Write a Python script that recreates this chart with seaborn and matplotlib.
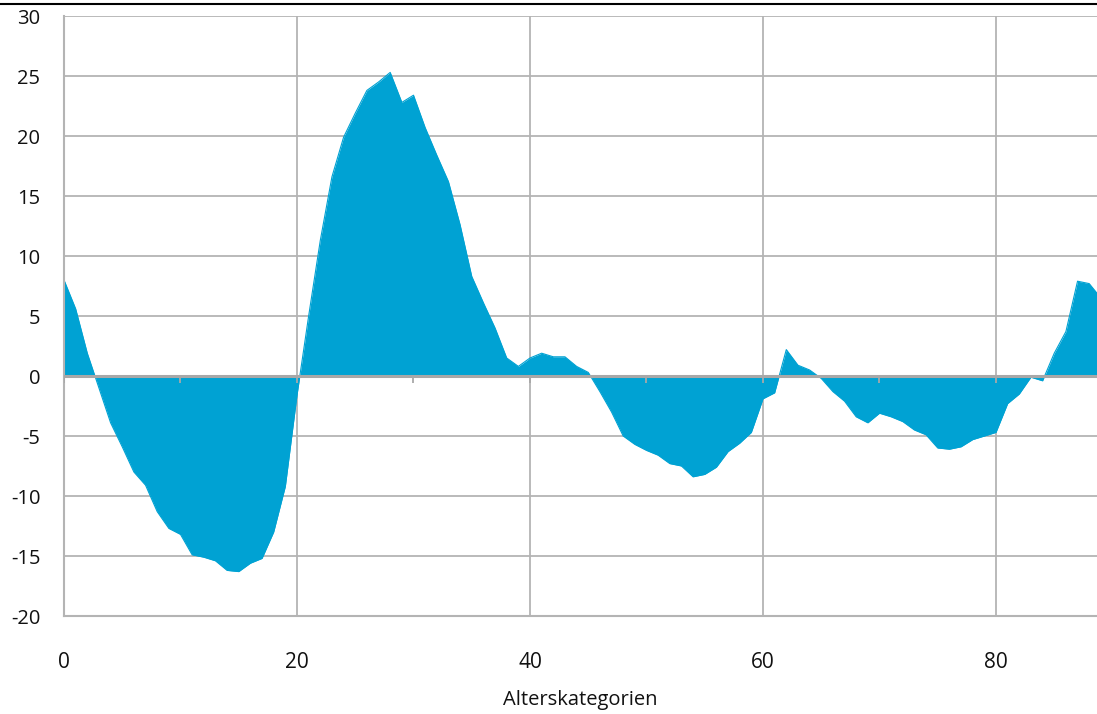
import matplotlib.pyplot as plt
import seaborn as sns
import pandas as pd
from matplotlib.lines import Line2D

# Werte je Alterskategorie (0..89)
alter = list(range(0, 90))
werte = [
    8.0, 5.6, 1.9, -1.0, -3.9, -5.9, -8.0, -9.1, -11.3, -12.7,
    -13.2, -14.9, -15.1, -15.4, -16.2, -16.3, -15.6, -15.2, -13.0, -9.2,
    -1.6, 5.0, 11.3, 16.6, 19.9, 21.9, 23.8, 24.5, 25.3, 22.8,
    23.4, 20.7, 18.4, 16.2, 12.6, 8.3, 6.1, 4.0, 1.5, 0.8,
    1.5, 1.9, 1.6, 1.6, 0.8, 0.3, -1.3, -3.0, -5.0, -5.7,
    -6.2, -6.6, -7.3, -7.5, -8.4, -8.2, -7.6, -6.3, -5.6, -4.7,
    -1.9, -1.4, 2.2, 0.9, 0.5, -0.2, -1.3, -2.1, -3.4, -3.9,
    -3.1, -3.4, -3.8, -4.5, -4.9, -6.0, -6.1, -5.9, -5.3, -5.0,
    -4.7, -2.3, -1.5, -0.1, -0.4, 1.9, 3.7, 7.9, 7.7, 6.5,
]
y_ticks = list(range(-20, 31, 5))
x_ticks = [0, 20, 40, 60, 80]

df = pd.DataFrame({'alter': alter, 'wert': werte})

blau = '#00A2D3'
grau = '#b4b4b4'

sns.set_style('white')
plt.rcParams['font.family'] = ['Open Sans', 'DejaVu Sans']

fig = plt.figure(figsize=(10.97, 7.14), dpi=100)
ax = fig.add_axes([64 / 1097, 98 / 714, 1033 / 1097, 600 / 714])

ax.fill_between(df['alter'], df['wert'], 0, color=blau, linewidth=0, zorder=2)
sns.lineplot(x='alter', y='wert', data=df, color=blau, linewidth=0.8, ax=ax, zorder=2)

ax.set_xlim(0, 88.67)
ax.set_ylim(-20, 30)
ax.set_yticks(y_ticks)
ax.set_xticks(x_ticks)
ax.set_yticklabels([str(t) for t in y_ticks], fontsize=14.5, color='#111111')
ax.set_xticklabels([str(t) for t in x_ticks], fontsize=15, color='#111111')
ax.tick_params(axis='y', length=0, pad=17)
ax.tick_params(axis='x', length=0, pad=26)

# Gitterlinien
ax.grid(True, color=grau, linewidth=1.3, zorder=0)
ax.set_axisbelow(True)
for side in ['top', 'right']:
    ax.spines[side].set_visible(False)
for side in ['left', 'bottom']:
    ax.spines[side].set_color(grau)
    ax.spines[side].set_linewidth(1.5)

# Nulllinie mit kleinen Strichen
ax.axhline(0, color='#a8a8a8', linewidth=2.2, zorder=3)
ax.vlines(range(0, 90, 10), -0.6, 0, color='#a8a8a8', linewidth=1.3, zorder=3)

ax.set_xlabel('Alterskategorien', fontsize=14.5, labelpad=12, color='#111111')
ax.set_ylabel('')

# schwarze Linie oben
fig.add_artist(Line2D([0, 1], [1 - 3.5 / 714, 1 - 3.5 / 714], color='black',
                      linewidth=1.5, transform=fig.transFigure))

fig.savefig('out.png', dpi=100)
